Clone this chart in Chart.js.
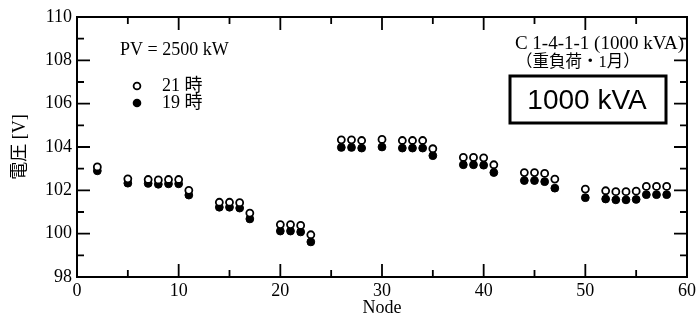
<!DOCTYPE html>
<html>
<head>
<meta charset="utf-8">
<script src="https://cdn.jsdelivr.net/npm/chart.js@4/dist/chart.umd.min.js"></script>
<style>
  body { margin: 0; background: #fff; }
  canvas { display: block; }
</style>
</head>
<body>
<canvas id="volt-chart" width="699" height="321"></canvas>
<script>
// data
var nodes = [2, 5, 7, 8, 9, 10, 11, 14, 15, 16, 17, 20, 21, 22, 23, 26, 27, 28, 30, 32, 33, 34, 35,
             38, 39, 40, 41, 44, 45, 46, 47, 50, 52, 53, 54, 55, 56, 57, 58];
var volt21 = [103.08, 102.53, 102.5, 102.48, 102.5, 102.5, 102.0, 101.45, 101.45, 101.43, 100.95,
              100.42, 100.42, 100.38, 99.95, 104.33, 104.33, 104.3, 104.35, 104.3, 104.3, 104.3, 103.92,
              103.52, 103.52, 103.5, 103.18, 102.82, 102.82, 102.78, 102.52, 102.06, 101.98, 101.94,
              101.94, 101.96, 102.18, 102.18, 102.18];
var volt19 = [102.9, 102.33, 102.32, 102.28, 102.3, 102.3, 101.78, 101.22, 101.22, 101.18, 100.68,
              100.12, 100.12, 100.08, 99.62, 103.98, 103.98, 103.95, 104.0, 103.95, 103.95, 103.95, 103.6,
              103.18, 103.18, 103.16, 102.82, 102.45, 102.45, 102.4, 102.1, 101.66, 101.6, 101.56,
              101.56, 101.58, 101.8, 101.8, 101.8];
var xTicks = [0, 10, 20, 30, 40, 50, 60];
var yTicks = [98, 100, 102, 104, 106, 108, 110];
var seriesLabels = ['21 時', '19 時'];

var serif = "'Liberation Serif', 'Noto Sans CJK JP', serif";

function pts(vals) {
  return nodes.map(function (n, i) { return { x: n, y: vals[i] }; });
}

// frame + inward ticks on all four sides, plus the text boxes
var framePlugin = {
  id: 'frame',
  afterDatasetsDraw: function (chart) {
    var c = chart.ctx, a = chart.chartArea;
    var xs = chart.scales.x, ys = chart.scales.y;
    c.save();
    c.strokeStyle = '#000';
    c.lineWidth = 1.8;
    var i, v, p;
    for (i = 0; i < xTicks.length; i++) {
      v = xTicks[i];
      p = xs.getPixelForValue(v);
      c.beginPath();
      c.moveTo(p, a.bottom); c.lineTo(p, a.bottom - 13);
      c.moveTo(p, a.top); c.lineTo(p, a.top + 13);
      c.stroke();
      if (i < xTicks.length - 1) {
        p = xs.getPixelForValue((v + xTicks[i + 1]) / 2);
        c.beginPath();
        c.moveTo(p, a.bottom); c.lineTo(p, a.bottom - 7);
        c.moveTo(p, a.top); c.lineTo(p, a.top + 7);
        c.stroke();
      }
    }
    for (i = 0; i < yTicks.length; i++) {
      v = yTicks[i];
      p = ys.getPixelForValue(v);
      c.beginPath();
      c.moveTo(a.left, p); c.lineTo(a.left + 13, p);
      c.moveTo(a.right, p); c.lineTo(a.right - 13, p);
      c.stroke();
      if (i < yTicks.length - 1) {
        p = ys.getPixelForValue((v + yTicks[i + 1]) / 2);
        c.beginPath();
        c.moveTo(a.left, p); c.lineTo(a.left + 7, p);
        c.moveTo(a.right, p); c.lineTo(a.right - 7, p);
        c.stroke();
      }
    }
    c.lineWidth = 2;
    c.strokeRect(a.left, a.top, a.right - a.left, a.bottom - a.top);

    // annotations
    c.fillStyle = '#000';
    c.textBaseline = 'middle';
    c.textAlign = 'left';
    c.font = '18px ' + serif;
    c.fillText('PV = 2500 kW', 120, 50);
    c.fillText(seriesLabels[0], 162, 86);
    c.fillText(seriesLabels[1], 162, 103);
    c.beginPath();
    c.arc(137, 86, 3.4, 0, Math.PI * 2);
    c.fillStyle = '#fff'; c.fill();
    c.lineWidth = 1.8; c.stroke();
    c.beginPath();
    c.arc(137, 103, 4.3, 0, Math.PI * 2);
    c.fillStyle = '#000'; c.fill();

    c.textAlign = 'right';
    c.font = '19px ' + serif;
    c.fillText('C 1-4-1-1 (1000 kVA)', 684, 44);
    c.textAlign = 'left';
    c.font = '16.5px ' + serif;
    c.fillText('（重負荷・1月）', 516, 63);

    c.lineWidth = 3;
    c.strokeRect(510, 76, 156, 47);
    c.textAlign = 'center';
    c.font = "28px 'Liberation Sans', Arial, sans-serif";
    c.fillText('1000 kVA', 587, 101);
    c.restore();
  }
};

var ctx = document.getElementById('volt-chart').getContext('2d');

var voltChart = new Chart(ctx, {
  type: 'scatter',
  data: {
    datasets: [
      {
        label: seriesLabels[0],
        data: pts(volt21),
        pointRadius: 3.5,
        pointBorderWidth: 1.8,
        pointBackgroundColor: '#fff',
        pointBorderColor: '#000',
        order: 0
      },
      {
        label: seriesLabels[1],
        data: pts(volt19),
        pointRadius: 3.9,
        pointBorderWidth: 1,
        pointBackgroundColor: '#000',
        pointBorderColor: '#000',
        order: 1
      }
    ]
  },
  options: {
    responsive: false,
    animation: false,
    devicePixelRatio: 1,
    layout: { padding: { top: 17, right: 12, left: 0, bottom: 0 } },
    plugins: { legend: { display: false }, tooltip: { enabled: false } },
    scales: {
      x: {
        type: 'linear',
        min: 0, max: 60,
        afterFit: function (s) { s.height = 44; },
        afterBuildTicks: function (s) { s.ticks = xTicks.map(function (v) { return { value: v }; }); },
        grid: { display: false, drawTicks: false },
        border: { display: false },
        ticks: { color: '#000', padding: 3, font: { family: serif, size: 18 }, maxRotation: 0 },
        title: { display: true, text: 'Node', color: '#000', font: { family: serif, size: 18 }, padding: { top: 0, bottom: 2 } }
      },
      y: {
        type: 'linear',
        min: 98, max: 110,
        afterFit: function (s) { s.width = 77; },
        afterBuildTicks: function (s) { s.ticks = yTicks.map(function (v) { return { value: v }; }); },
        grid: { display: false, drawTicks: false },
        border: { display: false },
        ticks: { color: '#000', padding: 5, font: { family: serif, size: 18 } },
        title: { display: true, text: '電圧 [V]', color: '#000', font: { family: serif, size: 18 }, padding: { top: 9, bottom: 0 } }
      }
    }
  },
  plugins: [framePlugin]
});
</script>
</body>
</html>
